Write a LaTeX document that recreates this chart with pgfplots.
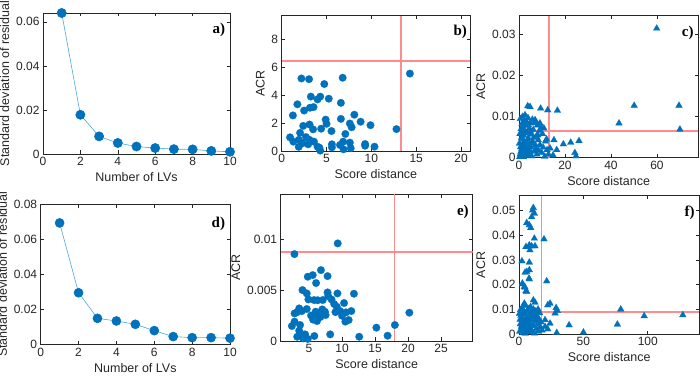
\documentclass[border=0pt]{standalone}
\usepackage{fontspec}
\setmainfont{Liberation Sans}
\newfontfamily\serifb{Liberation Serif}
\usepackage{pgfplots}
\pgfplotsset{compat=1.18}
\definecolor{mblue}{RGB}{0,114,189}
\definecolor{lblue}{RGB}{77,165,225}
\definecolor{lred}{RGB}{255,140,140}
\definecolor{axgray}{RGB}{38,38,38}
\tikzset{letter/.style={anchor=north east, font=\serifb\bfseries\fontsize{15}{15}\selectfont, inner sep=0pt, text=black}}
\pgfplotsset{
  base/.style={
    scale only axis, anchor=south west,
    axis line style={axgray, line width=0.9pt},
    tick style={axgray, line width=0.6pt},
    tick align=inside, major tick length=3.5pt,
    ticklabel style={font=\fontsize{12}{13}\selectfont, text=axgray},
    label style={font=\fontsize{12.5}{14}\selectfont, text=axgray},
    scaled ticks=false,
  },
  redline/.style={draw=lred, line width=1.8pt, forget plot, mark=none},
  circ/.style={only marks, mark=*, mark size=3.8pt, mark options={draw=mblue, fill=mblue, line width=0.2pt}},
  tri/.style={only marks, mark=triangle*, mark size=3.9pt, mark options={draw=mblue, fill=mblue, line width=0.2pt}},
}
\begin{document}
\begin{tikzpicture}
\useasboundingbox (0pt,0pt) rectangle (700pt,377pt);
% ---------- a)
\begin{axis}[base, at={(43pt,223pt)}, width=187pt, height=141pt,
  xmin=0, xmax=10, ymin=0, ymax=0.064,
  xtick={0,2,4,6,8,10}, xticklabels={0,2,4,6,8,10},
  ytick={0,0.02,0.04,0.06}, yticklabels={0,0.02,0.04,0.06},
  xlabel={Number of LVs}, ylabel={Standard deviation of residual}, clip=false]
\addplot[lblue, line width=0.6pt, mark=*, mark size=4.6pt, mark options={draw=mblue, fill=mblue}]
 coordinates {(1,0.0640)(2,0.0178)(3,0.0080)(4,0.0050)(5,0.0034)(6,0.0027)(7,0.0022)(8,0.0021)(9,0.0014)(10,0.0010)};
\node[letter] at (rel axis cs:0.975,0.93) {a)};
\end{axis}
% ---------- b)
\begin{axis}[base, at={(281.7pt,226pt)}, width=188.3pt, height=135.3pt,
  xmin=0, xmax=21, ymin=0, ymax=9.7,
  xtick={0,5,10,15,20}, xticklabels={0,5,10,15,20},
  ytick={0,2,4,6,8}, yticklabels={0,2,4,6,8},
  xlabel={Score distance}, ylabel={ACR}]
\addplot[redline] coordinates {(13.3,0)(13.3,9.7)};
\addplot[redline] coordinates {(0,6.47)(21,6.47)};
\addplot[circ] coordinates {
(2.2,5.2)(3.05,5.15)(6.8,5.25)(4.75,4.8)(14.3,5.55)(1.75,3.35)(3.25,3.9)(4.3,3.9)(4.0,3.7)(5.25,3.75)
(6.6,3.45)(1.25,2.55)(2.5,2.9)(3.15,3.1)(3.55,3.15)(4.9,2.25)(6.6,2.3)(8.1,2.6)(8.8,2.1)(9.9,1.85)
(7.6,1.97)(7.8,1.7)(2.4,1.8)(3.1,1.9)(3.5,1.55)(4.4,1.6)(5.0,1.95)(5.55,1.43)(7.1,1.22)(12.8,1.57)
(2.05,1.3)(0.93,0.98)(1.3,0.67)(1.9,0.8)(2.7,1.0)(3.1,0.8)(2.3,0.55)(2.95,0.48)(1.9,0.3)(4.0,0.3)
(4.3,0.03)(5.6,0.48)(5.6,0.26)(6.5,0.43)(6.85,0.67)(6.9,0.12)(7.6,0.6)(7.7,0.2)(9.3,0.5)(9.3,0.38)
(10.35,0.31)(4.2,0.24)(3.6,0.67)};
\node[letter] at (rel axis cs:0.985,0.93) {b)};
\node[anchor=south west, inner sep=1pt, font=\fontsize{9.5}{10}\selectfont, text=axgray] at (rel axis cs:0,1) {$\times$10$^{-3}$};
\end{axis}
% ---------- c)
\begin{axis}[base, at={(519pt,219.3pt)}, width=179.3pt, height=142pt,
  xmin=0, xmax=78, ymin=0, ymax=0.0346,
  xtick={0,20,40,60}, xticklabels={0,20,40,60},
  ytick={0,0.01,0.02,0.03}, yticklabels={0,0.01,0.02,0.03},
  xlabel={Score distance}, ylabel={ACR}]
\addplot[redline] coordinates {(13.0,0)(13.0,0.0346)};
\addplot[redline] coordinates {(0,0.0066)(78,0.0066)};
\addplot[tri] coordinates {
(0.3,0.0002)(0.5,0.0008)(0.8,0.0015)(1.0,0.0003)(1.2,0.0022)(1.4,0.0031)(1.6,0.0009)(1.8,0.0045)(2.0,0.0054)(2.1,0.0012)
(2.3,0.0067)(2.5,0.0028)(2.6,0.0104)(2.8,0.0078)(3.0,0.0005)(3.1,0.0036)(3.3,0.0088)(3.5,0.0061)(3.6,0.0019)(3.8,0.0126)
(3.9,0.0097)(4.1,0.0047)(4.3,0.0010)(4.5,0.0072)(4.8,0.0124)(4.9,0.0084)(5.1,0.0026)(5.3,0.0057)(5.5,0.0004)(5.8,0.0093)
(6.0,0.0039)(6.2,0.0068)(6.5,0.0015)(6.8,0.0085)(7.0,0.0092)(7.2,0.0030)(7.5,0.0052)(7.8,0.0008)(8.0,0.0079)(8.4,0.0043)
(8.6,0.0017)(8.9,0.0066)(9.1,0.0031)(9.1,0.0084)(9.4,0.0120)(9.6,0.0074)(9.9,0.0012)(10.2,0.0058)(10.5,0.0025)(10.8,0.0072)
(11.2,0.0003)(11.5,0.0040)(12.0,0.0045)(12.5,0.0116)(12.2,0.0019)(0.4,0.0058)(0.6,0.0095)(0.9,0.0070)(1.1,0.0049)(1.3,0.0083)
(1.5,0.0100)(1.7,0.0064)(1.9,0.0025)(2.2,0.0038)(2.4,0.0090)(2.7,0.0016)(2.9,0.0059)(3.2,0.0027)(3.4,0.0007)(3.7,0.0044)
(4.0,0.0080)(4.4,0.0032)(4.7,0.0018)(5.0,0.0064)(5.6,0.0035)(6.4,0.0049)(7.4,0.0021)(8.2,0.0055)(0.2,0.0035)(0.7,0.0026)
(1.0,0.0062)(1.6,0.0076)(2.0,0.0002)(13.5,0.0023)(15.2,0.0043)(16.4,0.0019)(19.3,0.0033)(22.5,0.0037)(26.1,0.0041)(24.3,0.0012)
(24.8,0.0004)(16.7,0.0115)(14.8,0.0006)(43.5,0.0084)(50.1,0.0127)(59.9,0.0315)(69.6,0.0127)(70.0,0.0069)(12.8,0.0008)};
\node[letter] at (rel axis cs:0.975,0.93) {c)};
\end{axis}
% ---------- d)
\begin{axis}[base, at={(40.7pt,32.7pt)}, width=189.3pt, height=140.3pt,
  xmin=0, xmax=10, ymin=0, ymax=0.08,
  xtick={0,2,4,6,8,10}, xticklabels={0,2,4,6,8,10},
  ytick={0,0.02,0.04,0.06,0.08}, yticklabels={0,0.02,0.04,0.06,0.08},
  xlabel={Number of LVs}, ylabel={Standard deviation of residual}, clip=false]
\addplot[lblue, line width=0.6pt, mark=*, mark size=4.5pt, mark options={draw=mblue, fill=mblue}]
 coordinates {(1,0.0692)(2,0.0294)(3,0.0148)(4,0.0133)(5,0.0114)(6,0.0078)(7,0.0044)(8,0.0038)(9,0.0038)(10,0.0035)};
\node[letter] at (rel axis cs:0.975,0.91) {d)};
\end{axis}
% ---------- e)
\begin{axis}[base, at={(280.7pt,36pt)}, width=192pt, height=146.7pt,
  xmin=0.7, xmax=29.8, ymin=0, ymax=0.0144,
  xtick={5,10,15,20,25}, xticklabels={5,10,15,20,25},
  ytick={0,0.005,0.01}, yticklabels={0,0.005,0.01},
  xlabel={Score distance}, ylabel={ACR}]
\addplot[redline] coordinates {(17.95,0)(17.95,0.0144)};
\addplot[redline] coordinates {(0.7,0.00873)(29.8,0.00873)};
\addplot[circ] coordinates {
(9.34,0.00958)(2.78,0.00853)(6.8,0.00696)(7.8,0.00637)(4.8,0.00631)(5.55,0.00647)(6.06,0.00569)(4.0,0.0050)(4.65,0.00467)(4.9,0.00408)
(5.76,0.00402)(7.07,0.00402)(7.8,0.00477)(9.3,0.00467)(11.8,0.00464)(7.9,0.00441)(8.4,0.00408)(8.8,0.00363)(10.3,0.00373)(9.2,0.00337)
(9.7,0.00294)(9.0,0.00284)(10.6,0.00281)(11.4,0.00294)(10.0,0.00248)(11.0,0.00206)(10.5,0.0019)(20.2,0.00278)(3.5,0.0032)(3.13,0.00281)
(3.9,0.00294)(2.8,0.00271)(4.65,0.00314)(6.0,0.00288)(6.5,0.00261)(6.9,0.00278)(7.4,0.00288)(6.0,0.00229)(6.2,0.00196)(6.7,0.00235)
(7.5,0.00255)(2.8,0.0019)(2.4,0.00147)(3.64,0.00157)(3.5,0.00101)(3.9,0.00065)(4.1,0.00026)(4.8,0.0002)(5.8,0.00049)(8.2,0.00065)
(12.6,0.00042)(15.2,0.00131)(16.9,0.00052)(18.0,0.00157)(3.2,0.00042)(4.4,0.00065)(5.3,0.0025)(5.6,0.0021)(7.0,0.0031)(6.3,0.0040)};
\node[letter] at (rel axis cs:0.98,0.93) {e)};
\end{axis}
% ---------- f)
\begin{axis}[base, at={(519pt,43pt)}, width=180.3pt, height=138.3pt,
  xmin=0, xmax=140, ymin=0, ymax=0.056,
  xtick={0,50,100}, xticklabels={0,50,100},
  ytick={0,0.01,0.02,0.03,0.04,0.05}, yticklabels={0,0.01,0.02,0.03,0.04,0.05},
  xlabel={Score distance}, ylabel={ACR}]
\addplot[redline] coordinates {(17.5,0)(17.5,0.056)};
\addplot[redline] coordinates {(0,0.0089)(140,0.0089)};
\addplot[tri] coordinates {
(11.1,0.0511)(10.6,0.0501)(11.9,0.0488)(9.8,0.0474)(6.0,0.0450)(8.0,0.0441)(9.1,0.0430)(11.9,0.0387)(19.4,0.0384)(5.4,0.0353)
(8.0,0.0360)(9.8,0.0356)(12.4,0.0356)(8.5,0.0340)(2.3,0.0295)(8.0,0.0290)(4.7,0.0249)(8.0,0.0259)(6.0,0.0252)(7.8,0.0225)
(8.0,0.0222)(21.5,0.0214)(2.6,0.0205)(2.8,0.0202)(4.1,0.0191)(4.7,0.0189)(5.4,0.0174)(6.0,0.0171)(11.1,0.0137)(12.4,0.0128)
(4.1,0.0124)(22.3,0.0117)(24.1,0.0124)(28.8,0.0106)(29.8,0.0094)(28.0,0.0084)(79.0,0.0100)(97.2,0.0073)(127.2,0.0077)(38.9,0.0036)
(50.0,0.0007)(76.4,0.0039)(29.3,0.0005)(24.1,0.0043)(22.3,0.0020)(20.2,0.0057)(20.2,0.0030)
(0.5,0.0010)(1.0,0.0040)(1.5,0.0075)(2.0,0.0020)(2.5,0.0105)(3.0,0.0055)(3.5,0.0005)(4.0,0.0085)(4.5,0.0030)(5.0,0.0115)
(5.5,0.0065)(6.0,0.0015)(6.5,0.0095)(7.0,0.0045)(7.5,0.0008)(8.0,0.0078)(8.5,0.0025)(9.0,0.0110)(9.5,0.0058)(10.0,0.0012)
(10.5,0.0088)(11.0,0.0035)(11.5,0.0068)(12.0,0.0003)(12.5,0.0050)(13.0,0.0092)(13.5,0.0022)(14.0,0.0072)(14.5,0.0040)(15.0,0.0010)
(15.5,0.0060)(16.0,0.0085)(16.5,0.0028)(17.0,0.0048)(1.2,0.0098)(2.2,0.0062)(3.2,0.0032)(4.2,0.0012)(5.2,0.0082)(6.2,0.0052)
(7.2,0.0102)(8.2,0.0038)(9.2,0.0018)(10.2,0.0068)(11.2,0.0100)(12.2,0.0078)(0.8,0.0058)(1.8,0.0030)(2.8,0.0080)(3.8,0.0048)
(4.8,0.0002)(5.8,0.0034)(6.8,0.0070)(7.8,0.0056)(8.8,0.0090)(9.8,0.0032)(13.8,0.0055)(18.0,0.0015)(0.3,0.0082)(14.8,0.0100)};
\node[letter] at (rel axis cs:0.975,0.93) {f)};
\end{axis}
\end{tikzpicture}
\end{document}
